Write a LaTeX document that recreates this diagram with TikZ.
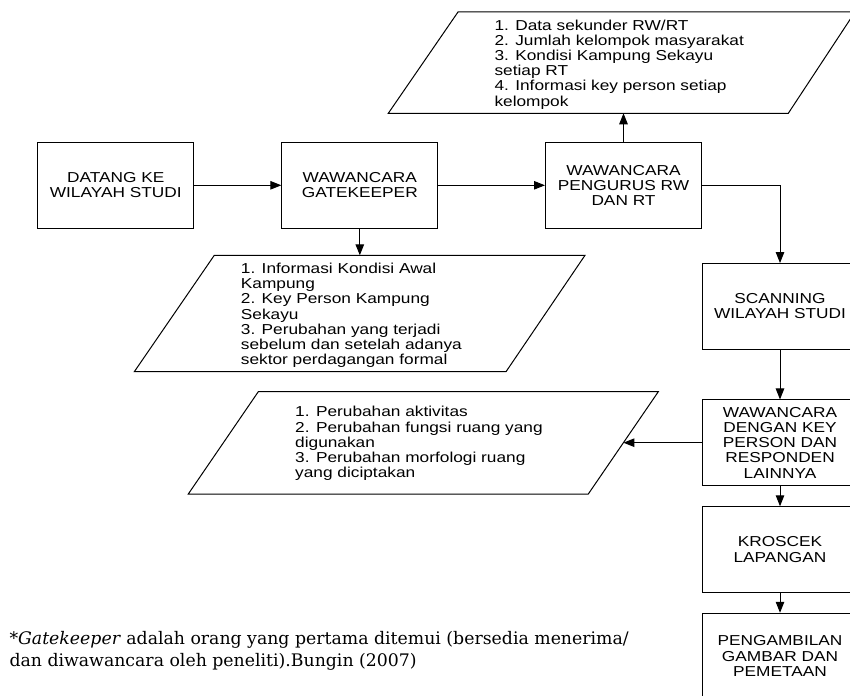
\documentclass[tikz,border=0pt]{standalone}
\usepackage{fontspec}
\setmainfont{Liberation Sans}[FakeStretch=1.2]
\newfontfamily\catatanfont{DejaVu Serif}
\usetikzlibrary{arrows.meta,positioning}
\tikzset{font=\fontsize{14.4}{15.2}\selectfont}
\tikzset{kotak/.style={draw,line width=1pt,minimum width=156pt,minimum height=85.5pt,align=center,inner sep=0pt}}
\tikzset{isi/.style={anchor=north west,align=left,inner sep=0pt}}
\tikzset{jajar/.style={draw,line width=1pt}}
\tikzset{panah/.style={line width=1pt,-{Triangle[length=11pt,width=8.5pt]}}}

\begin{document}
\begin{tikzpicture}[x=1pt,y=-1pt]
  \useasboundingbox (0,0) rectangle (850,695);
  \clip (0,0) rectangle (850,695);
  % kotak proses
  \node[kotak] (datang) at (115.8,185.3) {DATANG KE\\WILAYAH STUDI};
  \node[kotak] (gate) at (359.8,185.3) {WAWANCARA\\GATEKEEPER};
  \node[kotak] (rwrt) at (623.5,185.3) {WAWANCARA\\PENGURUS RW\\DAN RT};
  \node[kotak] (scan) at (780,306.3) {SCANNING\\WILAYAH STUDI};
  \node[kotak] (key) at (780,442.7) {WAWANCARA\\DENGAN KEY\\PERSON DAN\\RESPONDEN\\LAINNYA};
  \node[kotak] (kros) at (780,549.5) {KROSCEK\\LAPANGAN};
  \node[kotak] (ambil) at (780,656) {PENGAMBILAN\\GAMBAR DAN\\PEMETAAN};
  % data yang diperoleh
  \draw[jajar] (388.3,113.3) -- (788.3,113.3) -- (855,12) -- (458,12) -- cycle;
  \coordinate (hasilrw) at (623.5,113.3);
  \node[isi] (isirw) at (494.3,19.5) {1. Data sekunder RW/RT\\2. Jumlah kelompok masyarakat\\3. Kondisi Kampung Sekayu\\setiap RT\\4. Informasi key person setiap\\kelompok};
  \draw[jajar] (134.3,371.7) -- (506,371.7) -- (585,255.3) -- (214.3,255.3) -- cycle;
  \coordinate (hasilgate) at (359.8,255.3);
  \node[isi] (isigate) at (240.7,262.8) {1. Informasi Kondisi Awal\\Kampung\\2. Key Person Kampung\\Sekayu\\3. Perubahan yang terjadi\\sebelum dan setelah adanya\\sektor perdagangan formal};
  \draw[jajar] (188.3,494) -- (588.3,494) -- (658.3,391.7) -- (258.3,391.7) -- cycle;
  \coordinate (hasilkey) at (623.4,442.7);
  \node[isi] (isikey) at (295,406.2) {1. Perubahan aktivitas\\2. Perubahan fungsi ruang yang\\digunakan\\3. Perubahan morfologi ruang\\yang diciptakan};
  % alur
  \draw[panah] (datang) -- (gate);
  \draw[panah] (gate) -- (rwrt);
  \draw[panah] (gate.south) -- (hasilgate);
  \draw[panah] (rwrt.north) -- (hasilrw);
  \draw[panah] (rwrt.east) -| (scan.north);
  \draw[panah] (scan) -- (key);
  \draw[panah] (key.west) -- (hasilkey);
  \draw[panah] (key) -- (kros);
  \draw[panah] (kros) -- (ambil);
  % catatan
  \node[isi,font=\catatanfont\fontsize{17.3}{22}\selectfont] (catatan) at (9.3,631) {*\textit{Gatekeeper} adalah orang yang pertama ditemui (bersedia menerima/\\dan diwawancara oleh peneliti).Bungin (2007)};
\end{tikzpicture}
\end{document}
